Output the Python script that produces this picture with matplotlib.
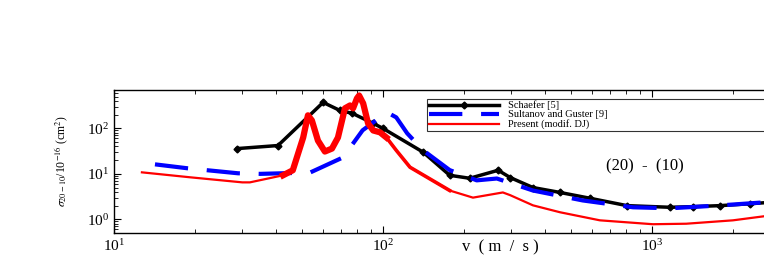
import matplotlib
matplotlib.use("Agg")
import matplotlib.pyplot as plt
import numpy as np

plt.rcParams['font.family'] = ['Liberation Serif', 'DejaVu Serif']
plt.rcParams['mathtext.fontset'] = 'stix'

# Schaefer [5]
schaefer_v = [28.7, 40.7, 59.9, 69, 77, 92, 100, 141, 177, 210, 268, 297, 361, 455, 589, 807, 1167, 1420, 1790, 2313, 3000]
schaefer_s = [36, 42, 373, 250, 214, 129, 100, 30, 9.3, 8.0, 12, 8.3, 5.0, 3.9, 2.9, 2.0, 1.84, 1.9, 2.0, 2.2, 2.45]

# Sultanov and Guster
sultanov_v = [14.2, 18.7, 28.9, 35, 53.6, 71, 84, 103.5, 112, 123, 141, 177, 223, 265, 361, 553, 850, 1167, 1740, 3000]
sultanov_s = [16.2, 13.3, 10.3, 10, 10.7, 23, 91, 226, 175, 78, 33, 12.1, 7.2, 7.9, 4.3, 2.6, 1.84, 1.75, 2.0, 2.5]

# Present (modif. DJ)
present_v = [12.7, 19.2, 30, 32, 42.5, 46.2, 50.5, 52.6, 54.4, 57.3, 60.8, 64.6, 68, 72.2, 75.4, 77.4,
             80, 81.5, 84.4, 88, 92, 97.5, 103, 112, 126, 177, 216, 279, 297, 361, 455, 640, 1007, 1340, 2000, 3000]
present_s = [10.8, 8.4, 6.5, 6.5, 9.3, 12, 63, 194, 150, 54, 31, 36, 63, 277, 320, 277,
             457, 530, 355, 129, 90, 82, 63, 33, 14, 4.3, 3.0, 3.9, 3.4, 2.03, 1.43, 0.95, 0.78, 0.8, 0.95, 1.3]

x_ticks = [10, 100, 1000]
y_ticks = [1, 10, 100]

legend_labels = ["Schaefer [5]", "Sultanov and Guster [9]", "Present (modif. DJ)"]

fig = plt.figure(figsize=(7.64, 2.64), dpi=100)
ax = fig.add_axes([114/764, 1-233/264, 807/764, 143/264])

l1, = ax.plot(schaefer_v, schaefer_s, color='black', lw=2.5, marker='D', ms=3.5, zorder=3)
l2, = ax.plot(sultanov_v, sultanov_s, color='#0000ff', lw=3, dashes=(8, 4.5), zorder=3.5)
pv = np.array(present_v); ps = np.array(present_s)
l3, = ax.plot(pv, ps, color='red', lw=1.6, zorder=4)
m = (pv >= 42) & (pv <= 105)
ax.plot(pv[m], ps[m], color='red', lw=4.5, solid_joinstyle='round', zorder=4)
m2 = (pv >= 103) & (pv <= 180)
ax.plot(pv[m2], ps[m2], color='red', lw=2.6, zorder=4)

ax.set_xscale('log')
ax.set_yscale('log')
ax.set_xlim(10, 1e4)
ax.set_ylim(0.5, 700)
ax.set_xticks(x_ticks)
ax.set_yticks(y_ticks)

ax.tick_params(which='both', direction='in', top=True, right=True, labelsize=11)
ax.tick_params(which='major', length=5)
ax.tick_params(which='minor', length=3)
for s in ax.spines.values():
    s.set_linewidth(1)

ax.set_ylabel(r"$\sigma_{20-10}$/10$^{-16}$ (cm$^2$)", fontsize=8.5, labelpad=12)
fig.text(500/764, 1-247/264, "v  ( m  /  s )", ha='center', va='center', fontsize=12)
fig.text(606/764, 1-166/264, "(20)  -  (10)", ha='left', va='center', fontsize=12)

leg = ax.legend([l1, l2, l3], legend_labels, loc='lower left',
                bbox_to_anchor=(427/764, 1-131/264, 500/764, 30/264),
                bbox_transform=fig.transFigure, mode='expand',
                fontsize=7.5, handlelength=6.8, labelspacing=0.0, borderpad=0.15,
                frameon=True, fancybox=False, edgecolor='black', borderaxespad=0)
leg.get_frame().set_linewidth(0.8)

fig.savefig("out.png", dpi=100)
